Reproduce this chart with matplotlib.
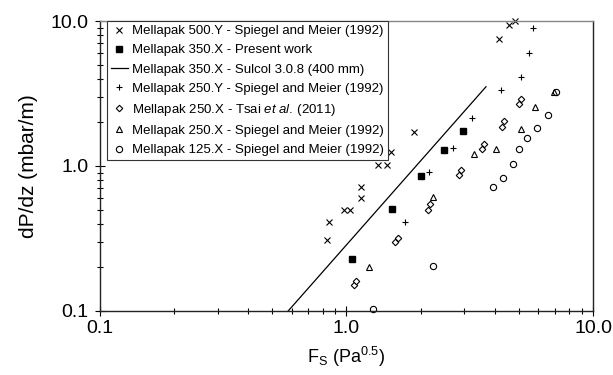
import matplotlib
matplotlib.use("Agg")
import matplotlib.pyplot as plt
from matplotlib.ticker import FixedLocator, FixedFormatter, LogLocator, NullFormatter

plt.rcParams["font.family"] = ["Liberation Sans", "DejaVu Sans"]
plt.rcParams["mathtext.fontset"] = "custom"
plt.rcParams["mathtext.rm"] = "Liberation Sans"
plt.rcParams["mathtext.it"] = "Liberation Sans:italic"

# Mellapak 500.Y - Spiegel and Meier (1992)
m500y_fs = [0.83, 0.85, 0.98, 1.03, 1.14, 1.15, 1.34, 1.46, 1.52, 1.87, 4.17, 4.56, 4.83]
m500y_dp = [0.31, 0.41, 0.50, 0.50, 0.72, 0.60, 1.01, 1.01, 1.24, 1.72, 7.48, 9.39, 9.95]

# Mellapak 350.X - Present work
m350x_fs = [1.05, 1.53, 2.01, 2.49, 2.96]
m350x_dp = [0.23, 0.505, 0.85, 1.29, 1.74]

# Mellapak 350.X - Sulcol 3.0.8 (400 mm)
sulcol_fs = [0.58, 3.68]
sulcol_dp = [0.10, 3.52]

# Mellapak 250.Y - Spiegel and Meier (1992)
m250y_fs = [1.72, 2.16, 2.71, 3.22, 4.24, 5.09, 5.51, 5.69]
m250y_dp = [0.41, 0.91, 1.33, 2.13, 3.33, 4.08, 6.05, 8.91]

# Mellapak 250.X - Tsai et al. (2011)
tsai_fs = [1.07, 1.09, 1.58, 1.62, 2.14, 2.19, 2.85, 2.91, 3.54, 3.62, 4.27, 4.36, 5.02, 5.12]
tsai_dp = [0.15, 0.16, 0.30, 0.32, 0.50, 0.55, 0.87, 0.94, 1.31, 1.42, 1.87, 2.03, 2.66, 2.89]

# Mellapak 250.X - Spiegel and Meier (1992)
m250x_fs = [1.23, 2.24, 3.28, 4.03, 5.09, 5.82, 6.92]
m250x_dp = [0.20, 0.61, 1.21, 1.31, 1.80, 2.54, 3.24]

# Mellapak 125.X - Spiegel and Meier (1992)
m125x_fs = [1.28, 2.24, 3.92, 4.30, 4.75, 5.01, 5.41, 5.94, 6.57, 7.05]
m125x_dp = [0.103, 0.205, 0.72, 0.82, 1.03, 1.32, 1.56, 1.84, 2.25, 3.24]

fig = plt.figure(figsize=(6.13, 3.75), dpi=100)
ax = fig.add_axes([0.1631, 0.1707, 0.8043, 0.7733])

mk = dict(linestyle="none", clip_on=False, color="black")
ax.plot(m500y_fs, m500y_dp, marker="x", markersize=3.8, markeredgewidth=0.8,
        label="Mellapak 500.Y - Spiegel and Meier (1992)", **mk)
ax.plot(m350x_fs, m350x_dp, marker="s", markersize=4.8,
        label="Mellapak 350.X - Present work", **mk)
ax.plot(sulcol_fs, sulcol_dp, color="black", linewidth=0.9,
        label="Mellapak 350.X - Sulcol 3.0.8 (400 mm)")
ax.plot(m250y_fs, m250y_dp, marker="+", markersize=5, markeredgewidth=0.8,
        label="Mellapak 250.Y - Spiegel and Meier (1992)", **mk)
ax.plot(tsai_fs, tsai_dp, marker="D", markersize=3.3, markerfacecolor="white",
        markeredgewidth=0.8, label=r"Mellapak 250.X - Tsai $\mathit{et\ al.}\,$(2011)", **mk)
ax.plot(m250x_fs, m250x_dp, marker="^", markersize=4.5, markerfacecolor="none",
        markeredgewidth=0.8, label="Mellapak 250.X - Spiegel and Meier (1992)", **mk)
ax.plot(m125x_fs, m125x_dp, marker="o", markersize=4.5, markerfacecolor="none",
        markeredgewidth=0.8, label="Mellapak 125.X - Spiegel and Meier (1992)", **mk)

ax.set_xscale("log")
ax.set_yscale("log")
ax.set_xlim(0.1, 10)
ax.set_ylim(0.1, 10)

for axis in (ax.xaxis, ax.yaxis):
    axis.set_major_locator(FixedLocator([0.1, 1.0, 10.0]))
    axis.set_major_formatter(FixedFormatter(["0.1", "1.0", "10.0"]))
    axis.set_minor_locator(LogLocator(base=10, subs=range(2, 10)))
    axis.set_minor_formatter(NullFormatter())

ax.tick_params(which="major", direction="inout", length=7, width=0.8, labelsize=14,
               top=False, right=False)
ax.tick_params(which="minor", direction="inout", length=5, width=0.8,
               top=False, right=False)
ax.tick_params(axis="x", which="major", pad=3)
ax.tick_params(axis="y", which="major", pad=5)

for side in ("left", "bottom", "right"):
    ax.spines[side].set_color("#222222")
    ax.spines[side].set_linewidth(1.0)
ax.spines["top"].set_color("#888888")
ax.spines["top"].set_linewidth(1.0)

ax.set_xlabel(r"F$_\mathregular{S}$ (Pa$^\mathregular{0.5}$)", fontsize=13, labelpad=6)
ax.set_ylabel("dP/dz (mbar/m)", fontsize=15, labelpad=9)

leg = ax.legend(loc="upper left", bbox_to_anchor=(0.014, 1.0), fontsize=9.5,
                frameon=True, fancybox=False, borderpad=0.3, borderaxespad=0,
                handlelength=1.3, handletextpad=0.3, labelspacing=0.53,
                numpoints=1, framealpha=1)
leg.get_frame().set_edgecolor("#333333")
leg.get_frame().set_linewidth(0.8)

fig.savefig("out.png", dpi=100)
